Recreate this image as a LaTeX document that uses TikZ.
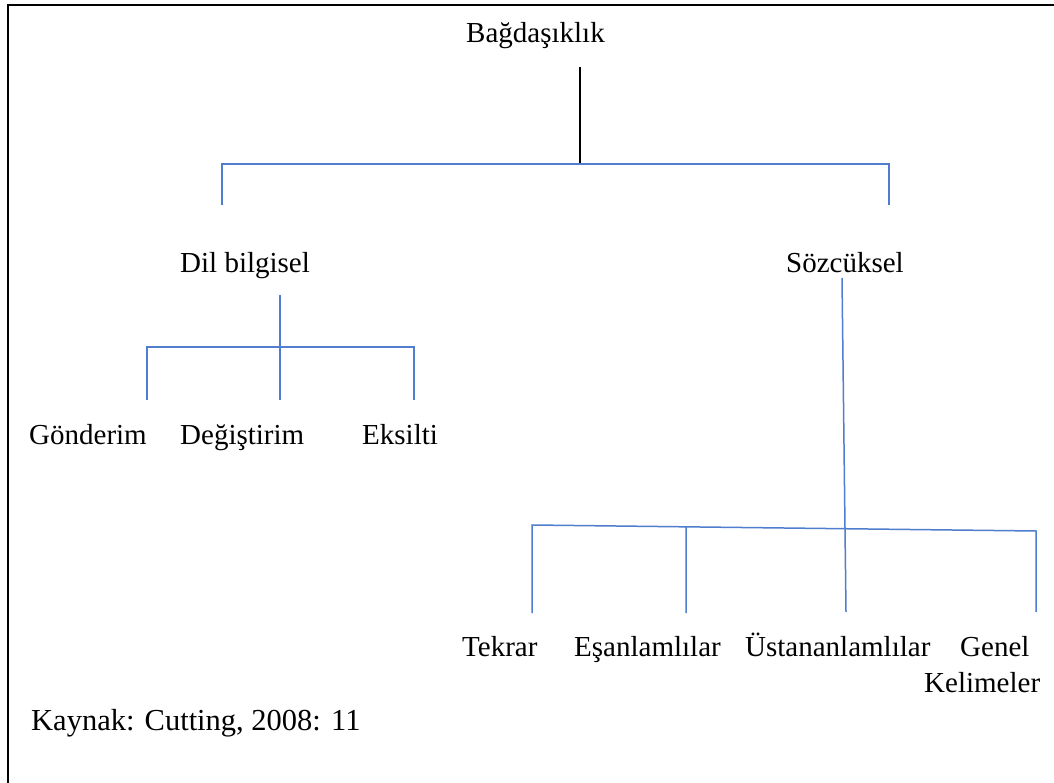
\documentclass[tikz,border=0pt]{standalone}
\usepackage{fontspec}
\usetikzlibrary{calc}
\setmainfont{Liberation Serif}
\definecolor{wordblue}{RGB}{80,125,205}
\begin{document}
\begin{tikzpicture}[x=1pt,y=-1pt,
  lbl/.style={inner sep=0pt, anchor=base west, font=\fontsize{29}{34}\selectfont},
  src/.style={inner sep=0pt, anchor=base west, font=\fontsize{30.5}{36}\selectfont},
  bline/.style={draw=wordblue, line width=1.5pt},
  kline/.style={draw=black, line width=1.2pt}]
\useasboundingbox (0,0) rectangle (1054,783);
\draw[line width=2pt] (8,783) -- (8,5) -- (1054,5);
% labels
\node[lbl] (bag) at (466,43) {Bağdaşıklık};
\node[lbl] (dil) at (180,273) {Dil bilgisel};
\node[lbl] (soz) at (786,273) {Sözcüksel};
\node[lbl] (gon) at (29,444) {Gönderim};
\node[lbl] (deg) at (180,444) {Değiştirim};
\node[lbl] (eks) at (362,444) {Eksilti};
\node[lbl] (tek) at (462,656) {Tekrar};
\node[lbl] (esa) at (574,656) {Eşanlamlılar};
\node[lbl] (ust) at (745,656) {Üstananlamlılar};
\node[lbl] (gen) at (960,656) {Genel};
\node[lbl] (kel) at (924,692) {Kelimeler};
\node[src] (kay) at (31,730) {Kaynak: Cutting, 2008: 11};
% junction coordinates
\coordinate (r0) at (580,67);
\coordinate (r1) at (580,164);
\coordinate (hl) at (222,164);
\coordinate (hr) at (889,164);
\coordinate (hl2) at (222,205);
\coordinate (hr2) at (889,205);
\coordinate (d0) at (280,295);
\coordinate (d1) at (280,347);
\coordinate (dl) at (147,347);
\coordinate (dr) at (414,347);
\coordinate (dl2) at (147,400);
\coordinate (dm2) at (280,400);
\coordinate (dr2) at (414,400);
\coordinate (s0) at (842,278);
\coordinate (s1) at (846,612);
\coordinate (a0) at (532,525);
\coordinate (a3) at (1036,531);
\coordinate (a0b) at (532,613);
\coordinate (a1b) at (686,613);
\coordinate (a3b) at (1036,612);
\coordinate (a1) at ($(a0)!0.3056!(a3)$);
% connectors
\draw[kline] (r0) -- (r1);
\draw[bline] (hl2) -- (hl) -- (hr) -- (hr2);
\draw[bline] (d0) -- (dm2);
\draw[bline] (dl2) -- (dl) -- (dr) -- (dr2);
\draw[bline] (s0) -- (s1);
\draw[bline] (a0b) -- (a0) -- (a3) -- (a3b);
\draw[bline] (a1) -- (a1b);
\end{tikzpicture}
\end{document}
